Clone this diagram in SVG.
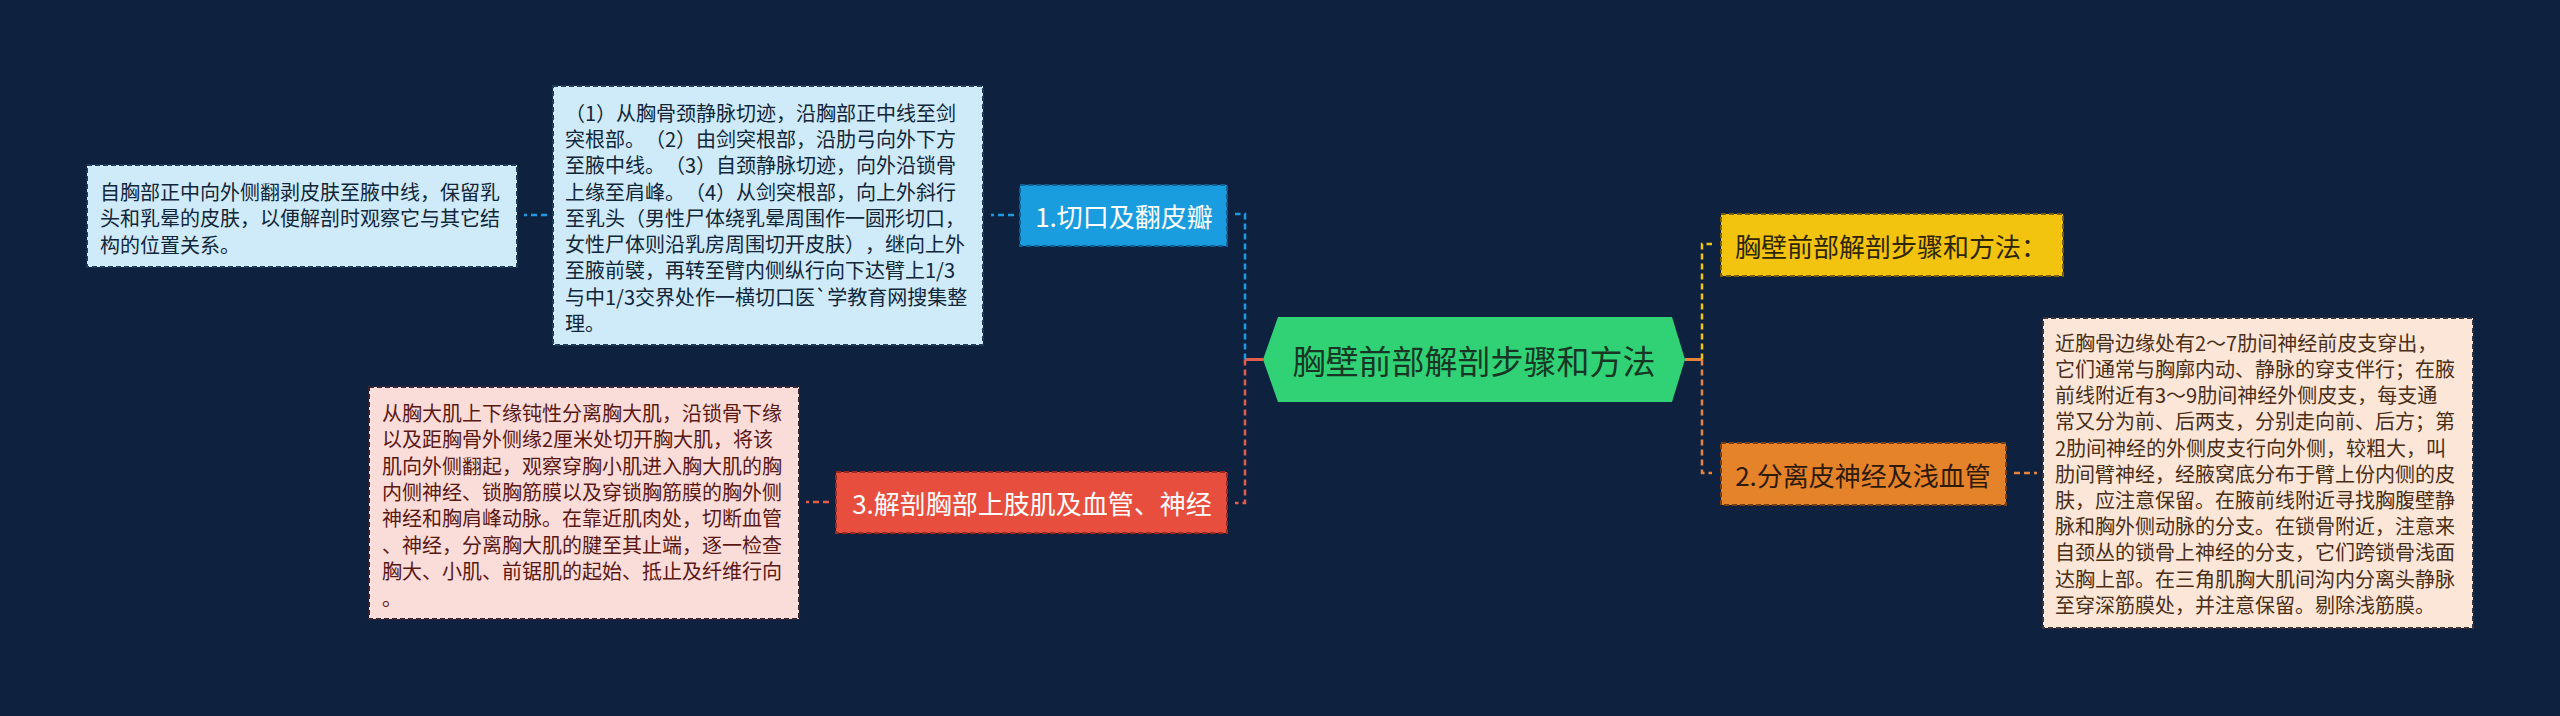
<svg xmlns="http://www.w3.org/2000/svg" width="2560" height="716" viewBox="0 0 2560 716">
<style>
  .bg{fill:#0e2240}
  text{text-spacing-trim:space-all}
  .t20{font-family:"Noto Sans CJK SC","Noto Sans",sans-serif;font-size:20px}
  .t26{font-family:"Noto Sans CJK SC","Noto Sans",sans-serif;font-size:26px}
  .t32{font-family:"Noto Sans CJK SC","Noto Sans",sans-serif;font-size:33px}
  .box{stroke-width:2;stroke-dasharray:5 3}
  .dash{fill:none;stroke-width:2.5;stroke-dasharray:6 4}
  .solid{fill:none;stroke-width:3}
</style>
<rect class="bg" x="0" y="0" width="2560" height="716"/>

<g id="connectors">
  <path class="solid" d="M1263,359.5 H1245" stroke="#e35d4c"/>
  <path class="dash" d="M1245,359.5 V214 H1235" stroke="#1d9be0"/>
  <path class="dash" d="M1245,359.5 V503 H1235" stroke="#e35d4c"/>
  <path class="dash" d="M1014,215 H991" stroke="#1d9be0"/>
  <path class="dash" d="M547,215 H524" stroke="#1d9be0"/>
  <path class="dash" d="M829,502 H806" stroke="#e35d4c"/>
  <path class="solid" d="M1685,359.5 H1702" stroke="#e5843a"/>
  <path class="dash" d="M1702,359.5 V244 H1712" stroke="#f1c40f"/>
  <path class="dash" d="M1702,359.5 V473 H1712" stroke="#e5843a"/>
  <path class="dash" d="M2014,473 H2037" stroke="#e5843a"/>
</g>

<g id="root">
  <polygon points="1263,359.5 1278,317 1672,317 1685,359.5 1672,402 1278,402" fill="#30d275"/>
  <text class="t32" x="1474" y="360" text-anchor="middle" dominant-baseline="central" fill="#173624">胸壁前部解剖步骤和方法</text>
</g>

<g id="node1">
  <rect class="box" x="1020" y="185" width="207" height="61" fill="#1a9ddf" stroke="#0d5f96"/>
  <text class="t26" x="1124" y="215.5" text-anchor="middle" dominant-baseline="central" fill="#ffffff">1.切口及翻皮瓣</text>
</g>

<g id="box2">
  <rect class="box" x="553" y="86" width="430" height="259" fill="#cfeaf8" stroke="#1d3c5a"/>
  <text class="t20" fill="#10263a">
    <tspan x="565" y="120.8">（1）从胸骨颈静脉切迹，沿胸部正中线至剑</tspan>
    <tspan x="565" y="147">突根部。（2）由剑突根部，沿肋弓向外下方</tspan>
    <tspan x="565" y="173.3">至腋中线。（3）自颈静脉切迹，向外沿锁骨</tspan>
    <tspan x="565" y="199.5">上缘至肩峰。（4）从剑突根部，向上外斜行</tspan>
    <tspan x="565" y="225.8">至乳头（男性尸体绕乳晕周围作一圆形切口，</tspan>
    <tspan x="565" y="252">女性尸体则沿乳房周围切开皮肤），继向上外</tspan>
    <tspan x="565" y="278.3">至腋前襞，再转至臂内侧纵行向下达臂上1/3</tspan>
    <tspan x="565" y="304.5">与中1/3交界处作一横切口医`学教育网搜集整</tspan>
    <tspan x="565" y="330.8">理。</tspan>
  </text>
</g>

<g id="box1">
  <rect class="box" x="87" y="165" width="430" height="102" fill="#cfeaf8" stroke="#1d3c5a"/>
  <text class="t20" fill="#10263a">
    <tspan x="100" y="199.5">自胸部正中向外侧翻剥皮肤至腋中线，保留乳</tspan>
    <tspan x="100" y="226.3">头和乳晕的皮肤，以便解剖时观察它与其它结</tspan>
    <tspan x="100" y="253">构的位置关系。</tspan>
  </text>
</g>

<g id="node3">
  <rect class="box" x="836" y="472" width="391" height="61" fill="#e84e3d" stroke="#9a2a1f"/>
  <text class="t26" x="1032" y="502.5" text-anchor="middle" dominant-baseline="central" fill="#ffffff">3.解剖胸部上肢肌及血管、神经</text>
</g>

<g id="box3">
  <rect class="box" x="369" y="387" width="430" height="232" fill="#fadcd9" stroke="#3a2430"/>
  <text class="t20" fill="#5a1814">
    <tspan x="382" y="420.8">从胸大肌上下缘钝性分离胸大肌，沿锁骨下缘</tspan>
    <tspan x="382" y="447.2">以及距胸骨外侧缘2厘米处切开胸大肌，将该</tspan>
    <tspan x="382" y="473.6">肌向外侧翻起，观察穿胸小肌进入胸大肌的胸</tspan>
    <tspan x="382" y="500">内侧神经、锁胸筋膜以及穿锁胸筋膜的胸外侧</tspan>
    <tspan x="382" y="526.4">神经和胸肩峰动脉。在靠近肌肉处，切断血管</tspan>
    <tspan x="382" y="552.8">、神经，分离胸大肌的腱至其止端，逐一检查</tspan>
    <tspan x="382" y="579.2">胸大、小肌、前锯肌的起始、抵止及纤维行向</tspan>
    <tspan x="382" y="605.6">。</tspan>
  </text>
</g>

<g id="node_yellow">
  <rect class="box" x="1721" y="214" width="342" height="62" fill="#f2c40f" stroke="#7a5e06"/>
  <text class="t26" x="1735" y="245" dominant-baseline="central" fill="#2e2506">胸壁前部解剖步骤和方法：</text>
</g>

<g id="node2">
  <rect class="box" x="1721" y="443" width="285" height="62" fill="#e5832a" stroke="#7a3f0e"/>
  <text class="t26" x="1863" y="474" text-anchor="middle" dominant-baseline="central" fill="#2e1a08">2.分离皮神经及浅血管</text>
</g>

<g id="box_right">
  <rect class="box" x="2043" y="318" width="430" height="310" fill="#fbe6d7" stroke="#3a3438"/>
  <text class="t20" fill="#4a2e18">
    <tspan x="2055" y="350.8">近胸骨边缘处有2～7肋间神经前皮支穿出，</tspan>
    <tspan x="2055" y="377">它们通常与胸廓内动、静脉的穿支伴行；在腋</tspan>
    <tspan x="2055" y="403.2">前线附近有3～9肋间神经外侧皮支，每支通</tspan>
    <tspan x="2055" y="429.4">常又分为前、后两支，分别走向前、后方；第</tspan>
    <tspan x="2055" y="455.6">2肋间神经的外侧皮支行向外侧，较粗大，叫</tspan>
    <tspan x="2055" y="481.8">肋间臂神经，经腋窝底分布于臂上份内侧的皮</tspan>
    <tspan x="2055" y="508">肤，应注意保留。在腋前线附近寻找胸腹壁静</tspan>
    <tspan x="2055" y="534.2">脉和胸外侧动脉的分支。在锁骨附近，注意来</tspan>
    <tspan x="2055" y="560.4">自颈丛的锁骨上神经的分支，它们跨锁骨浅面</tspan>
    <tspan x="2055" y="586.6">达胸上部。在三角肌胸大肌间沟内分离头静脉</tspan>
    <tspan x="2055" y="612.8">至穿深筋膜处，并注意保留。剔除浅筋膜。</tspan>
  </text>
</g>
</svg>
